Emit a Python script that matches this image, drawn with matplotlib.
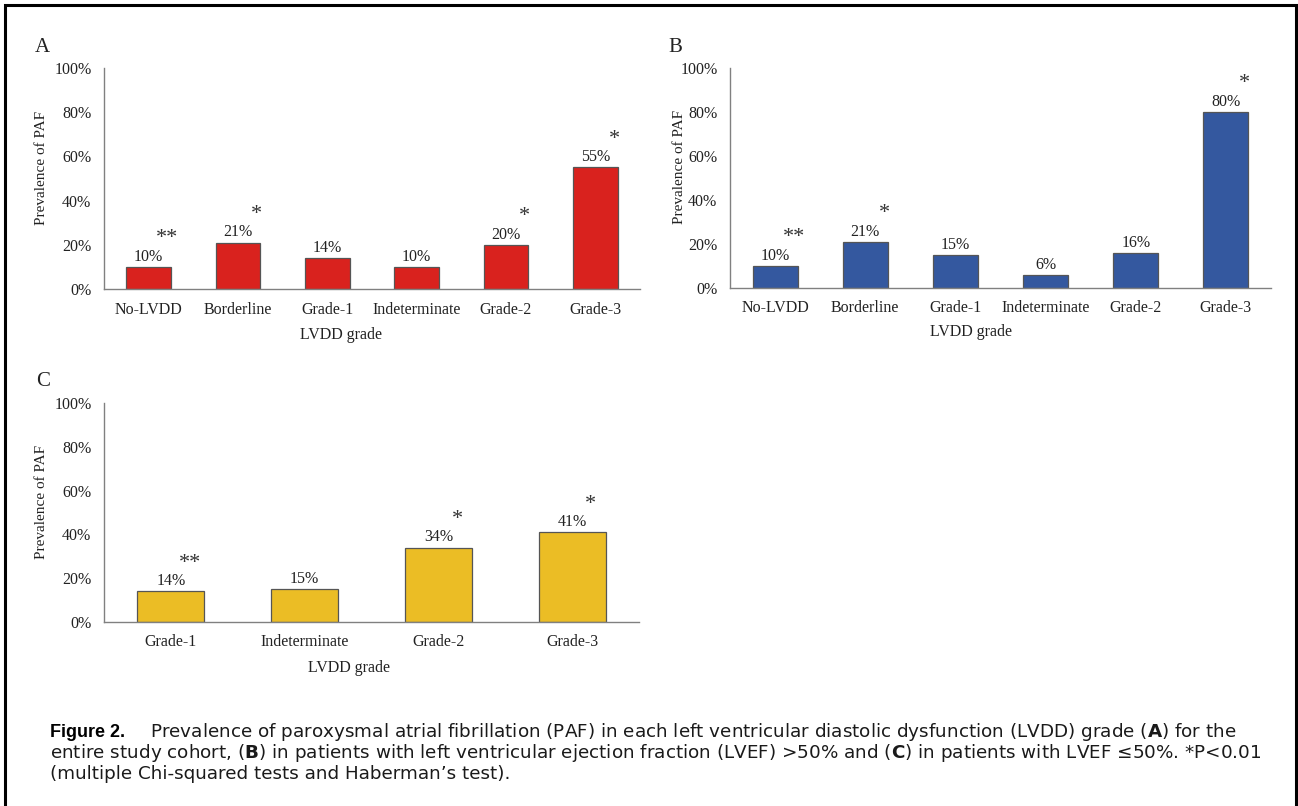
import matplotlib
matplotlib.use("Agg")
import matplotlib.pyplot as plt
import matplotlib.patches as mpatches

# data
cats_ab = ["No-LVDD", "Borderline", "Grade-1", "Indeterminate", "Grade-2", "Grade-3"]
cats_c = ["Grade-1", "Indeterminate", "Grade-2", "Grade-3"]

paf_a = [10, 21, 14, 10, 20, 55]
paf_b = [10, 21, 15, 6, 16, 80]
paf_c = [14, 15, 34, 41]

stars_a = ["**", "*", "", "", "*", "*"]
stars_b = ["**", "*", "", "", "", "*"]
stars_c = ["**", "", "*", "*"]

yticks = [0, 20, 40, 60, 80, 100]

plt.rcParams["font.family"] = ["Liberation Serif", "DejaVu Serif"]
plt.rcParams["mathtext.fontset"] = "dejavusans"

W, H = 1298, 806
fig = plt.figure(figsize=(W / 100, H / 100), dpi=100)


def px_axes(left, top, right, bottom):
    return fig.add_axes([left / W, 1 - bottom / H, (right - left) / W, (bottom - top) / H])


def panel(ax, cats, vals, stars, color, letter, xlab_pos, ylab_x):
    x = range(len(cats))
    ax.bar(x, vals, width=0.5, color=color, edgecolor="#555555", linewidth=0.9)
    ax.set_xlim(-0.5, len(cats) - 0.5)
    ax.set_ylim(0, 100)
    ax.set_yticks(yticks)
    ax.set_yticklabels([f"{t}%" for t in yticks])
    ax.set_xticks(list(x))
    ax.set_xticklabels(cats)
    ax.tick_params(length=0, labelsize=11.5, colors="#222222")
    ax.tick_params(axis="y", pad=9)
    ax.tick_params(axis="x", pad=9)
    for s in ["top", "right"]:
        ax.spines[s].set_visible(False)
    for s in ["left", "bottom"]:
        ax.spines[s].set_color("#808080")
        ax.spines[s].set_linewidth(1.0)
    for i, v in enumerate(vals):
        ax.annotate(f"{v}%", (i, v), xytext=(0, 4.5), textcoords="offset points",
                    ha="center", va="baseline", fontsize=11.5, color="#222222")
        if stars[i]:
            ax.annotate(stars[i], (i, v), xytext=(13.5, 17), textcoords="offset points",
                        ha="center", va="baseline", fontsize=16, color="#333333")
    ax.set_ylabel("Prevalence of PAF", fontsize=11, color="#222222")
    ax.yaxis.set_label_coords(ylab_x, 0.55)
    ax.set_xlabel("LVDD grade", fontsize=11.5, color="#222222")
    ax.xaxis.set_label_coords(*xlab_pos)
    fig.text(letter[1] / W, 1 - letter[2] / H, letter[0], fontsize=15,
             ha="center", va="center", color="#222222")


ax_a = px_axes(104, 68, 640, 289)
panel(ax_a, cats_ab, paf_a, stars_a, "#D9221E", ("A", 42, 47), (0.442, -0.17), -0.105)

ax_b = px_axes(730, 68, 1271, 288)
panel(ax_b, cats_ab, paf_b, stars_b, "#34589F", ("B", 675, 48), (0.445, -0.165), -0.082)

ax_c = px_axes(104, 403, 639, 622)
panel(ax_c, cats_c, paf_c, stars_c, "#EBBD25", ("C", 43, 381), (0.458, -0.172), -0.104)

# caption
cap_font = ["DejaVu Sans"]
cap_size = 13.2
fig.text(50 / W, 1 - 737 / H, "Figure 2.", fontsize=13, fontweight="bold",
         family=["Liberation Sans Narrow", "Liberation Sans"], va="baseline", color="black")
fig.text(150 / W, 1 - 737 / H,
         r"Prevalence of paroxysmal atrial fibrillation (PAF) in each left ventricular diastolic "
         r"dysfunction (LVDD) grade ($\mathbf{A}$) for the",
         fontsize=cap_size, family=cap_font, va="baseline", color="#1a1a1a")
fig.text(50 / W, 1 - 758 / H,
         r"entire study cohort, ($\mathbf{B}$) in patients with left ventricular ejection fraction "
         r"(LVEF) >50% and ($\mathbf{C}$) in patients with LVEF ≤50%. *P<0.01",
         fontsize=cap_size, family=cap_font, va="baseline", color="#1a1a1a")
fig.text(50 / W, 1 - 779 / H, "(multiple Chi-squared tests and Haberman’s test).",
         fontsize=cap_size, family=cap_font, va="baseline", color="#1a1a1a")

# frame around the whole figure
frame = mpatches.Rectangle((5 / W, -0.05), (1296 - 5) / W, 1 - 5 / H + 0.05,
                           transform=fig.transFigure, fill=False, edgecolor="black",
                           linewidth=2.2, clip_on=False)
fig.patches.append(frame)

fig.savefig("out.png", dpi=100)
